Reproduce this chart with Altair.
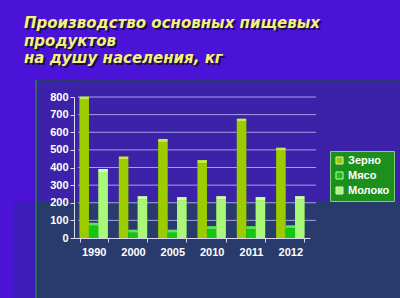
import altair as alt
import pandas as pd

years = ["1990", "2000", "2005", "2010", "2011", "2012"]
series = ["Зерно", "Мясо", "Молоко"]
grain = [785, 445, 545, 425, 660, 495]
meat = [70, 30, 30, 50, 50, 55]
milk = [375, 220, 215, 220, 215, 220]
grid_vals = [100, 200, 300, 400, 500, 600, 700, 800]
title_lines = ["Производство основных пищевых", "продуктов", "на душу населения, кг"]

front_colors = ["#9ccc00", "#10c810", "#aaf77a"]
side_colors = ["#5f7f00", "#008a00", "#6fbf4f"]
top_colors = ["#c8e850", "#60e060", "#d0ffb0"]

rows = []
for i, y in enumerate(years):
    for s, vals, sc, tc in zip(series, [grain, meat, milk], side_colors, top_colors):
        rows.append({"year": y, "series": s, "value": vals[i], "side": sc, "top": tc})
df = pd.DataFrame(rows)

W, H = 236, 141
L, T = 74, 97

dummy = pd.DataFrame({"a": [0]})
base = alt.Chart(dummy)

bg_upper = base.mark_rect(color="#3b22a8").encode(
    x=alt.value(36 - L), x2=alt.value(400 - L), y=alt.value(80 - T), y2=alt.value(202 - T))
bg_lower = base.mark_rect(color="#293a6c").encode(
    x=alt.value(36 - L), x2=alt.value(400 - L), y=alt.value(202 - T), y2=alt.value(298 - T))
bg_left = base.mark_rect(color="#3d1cbc").encode(
    x=alt.value(13 - L), x2=alt.value(36 - L), y=alt.value(202 - T), y2=alt.value(298 - T))
top_line = base.mark_rule(color="#2c3a70", strokeWidth=2).encode(
    x=alt.value(36 - L), x2=alt.value(400 - L), y=alt.value(80 - T))
green_line = base.mark_rule(color="#2f7a4a", strokeWidth=1.5).encode(
    x=alt.value(36 - L), y=alt.value(80 - T), y2=alt.value(298 - T))

title_layers = []
baselines = [28, 45.5, 63]
for line, by in zip(title_lines, baselines):
    tb = alt.Chart(pd.DataFrame({"line": [line]}))
    common = dict(font="DejaVu Sans", fontSize=15, fontWeight="bold", fontStyle="italic",
                  align="left", baseline="alphabetic")
    title_layers.append(tb.mark_text(color="#1a1040", dx=2, dy=2, **common).encode(
        text="line:N", x=alt.value(24 - L), y=alt.value(by - T)))
    title_layers.append(tb.mark_text(color="#f4f080", **common).encode(
        text="line:N", x=alt.value(24 - L), y=alt.value(by - T)))

yscale = alt.Scale(domain=[0, 800], nice=False)
yaxis = alt.Axis(values=list(range(0, 801, 100)), labelColor="white",
                 labelFont="Liberation Sans", labelFontWeight="bold",
                 labelFontSize=11, labelPadding=2, tickSize=4,
                 tickColor="#d8d8f0", domainColor="#d8d8f0",
                 grid=False, zindex=1)
grid = alt.Chart(pd.DataFrame({"g": grid_vals})).mark_rule(color="#a8a0ec", strokeWidth=1).encode(
    y=alt.Y("g:Q", scale=yscale, axis=yaxis, title=None), x=alt.value(4), x2=alt.value(W + 6))

xenc = alt.X("year:N", sort=years, title=None,
             scale=alt.Scale(paddingInner=0.28, paddingOuter=0.14),
             axis=alt.Axis(labelAngle=0, labelColor="white", labelFont="Liberation Sans",
                           labelFontWeight="bold", labelFontSize=11, labelPadding=4,
                           domainColor="#d8d8f0", tickColor="#d8d8f0", tickBand="extent",
                           tickSize=4, grid=False, zindex=1))
xoff = alt.XOffset("series:N", sort=series, scale=alt.Scale(paddingInner=0))
yenc = alt.Y("value:Q", title=None, scale=yscale, axis=yaxis)

bars = alt.Chart(df)
side = bars.mark_bar(xOffset=3, yOffset=-3).encode(
    x=xenc, xOffset=xoff, y=yenc, fill=alt.Fill("side:N", scale=None))
topf = bars.mark_bar(xOffset=1.5, yOffset=-3, y2Offset=0).encode(
    x=xenc, xOffset=xoff, y=yenc, y2="value:Q", fill=alt.Fill("top:N", scale=None))
front = bars.mark_bar().encode(
    x=xenc, xOffset=xoff, y=yenc,
    color=alt.Color("series:N", sort=series,
                    scale=alt.Scale(domain=series, range=front_colors),
                    legend=alt.Legend(title=None, orient="none", legendX=330 - L, legendY=151 - T,
                                      fillColor="#1c8f1c", strokeColor="#80d080",
                                      padding=4, symbolType="square", symbolSize=50,
                                      symbolStrokeColor="#d0f0c0", symbolStrokeWidth=1,
                                      labelColor="white", labelFont="Liberation Sans",
                                      labelFontWeight="bold", labelFontSize=11,
                                      rowPadding=2, labelOffset=3)))

chart = alt.layer(bg_upper, bg_lower, bg_left, top_line, green_line,
                  *title_layers, grid, side, topf, front).properties(
    width=W, height=H,
    autosize=alt.AutoSizeParams(type="none"),
    padding={"left": L, "top": T, "right": 400 - L - W, "bottom": 298 - T - H},
    background="#4b12d8",
).configure_view(stroke=None)

chart.save("out.html", embed_options={"renderer": "svg", "actions": False})
